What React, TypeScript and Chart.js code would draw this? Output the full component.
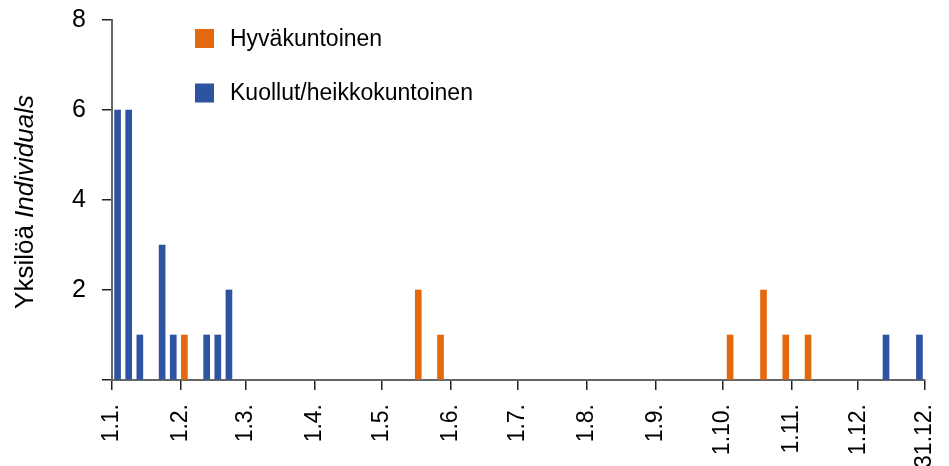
import React, { useEffect, useRef } from "react";
import { Chart, registerables } from "chart.js";

Chart.register(...registerables);

// Day-of-year (0 = 1.1.) bin centres, 5-day bins
const goodDays = [32.5, 137.5, 147.5, 277.5, 292.5, 302.5, 312.5];
const goodCounts = [1, 2, 1, 1, 2, 1, 1];
const poorDays = [2.5, 7.5, 12.5, 22.5, 27.5, 42.5, 47.5, 52.5, 347.5, 362.5];
const poorCounts = [6, 6, 1, 3, 1, 1, 1, 2, 1, 1];

const tickDays = [0, 31, 60, 91, 121, 152, 182, 213, 244, 274, 305, 335, 365];
const tickLabels = ["1.1.", "1.2.", "1.3.", "1.4.", "1.5.", "1.6.", "1.7.", "1.8.", "1.9.", "1.10.", "1.11.", "1.12.", "31.12."];
const yTicks = [0, 2, 4, 6, 8];

const seriesNames = ["Hyväkuntoinen", "Kuollut/heikkokuntoinen"];
const seriesColors = ["#E3690F", "#2E53A0"];

const FONT = "'Liberation Sans', Arial, Helvetica, sans-serif";

const overlayPlugin = {
  id: "overlay",
  afterDraw(chart: any) {
    const ctx = chart.ctx as CanvasRenderingContext2D;
    ctx.save();
    // y-axis title with mixed styles
    const part1 = "Yksilöä ";
    const part2 = "Individuals";
    ctx.font = `26px ${FONT}`;
    const w1 = ctx.measureText(part1).width;
    ctx.font = `italic 26px ${FONT}`;
    const w2 = ctx.measureText(part2).width;
    const total = w1 + w2;
    const cy = 202;
    ctx.translate(33, cy);
    ctx.rotate(-Math.PI / 2);
    ctx.fillStyle = "#000";
    ctx.textBaseline = "alphabetic";
    ctx.textAlign = "left";
    ctx.font = `26px ${FONT}`;
    ctx.fillText(part1, -total / 2, 0);
    ctx.font = `italic 26px ${FONT}`;
    ctx.fillText(part2, -total / 2 + w1, 0);
    ctx.restore();

    // legend
    ctx.save();
    ctx.font = `23px ${FONT}`;
    ctx.textBaseline = "middle";
    ctx.textAlign = "left";
    seriesNames.forEach((name, i) => {
      const cyL = 38.5 + i * 54.5;
      ctx.fillStyle = seriesColors[i];
      ctx.fillRect(195, cyL - 9.5, 19, 19);
      ctx.fillStyle = "#000";
      ctx.fillText(name, 230, cyL + 1);
    });
    ctx.restore();
  },
};

export default function App() {
  const ref = useRef<HTMLCanvasElement | null>(null);

  useEffect(() => {
    document.body.style.margin = "0";
    if (!ref.current) return;
    const chart = new Chart(ref.current, {
      type: "bar",
      data: {
        datasets: [
          {
            label: seriesNames[0],
            data: goodDays.map((d, i) => ({ x: d, y: goodCounts[i] })),
            backgroundColor: seriesColors[0],
            barThickness: 6,
            grouped: false,
          } as any,
          {
            label: seriesNames[1],
            data: poorDays.map((d, i) => ({ x: d, y: poorCounts[i] })),
            backgroundColor: seriesColors[1],
            barThickness: 6,
            grouped: false,
          } as any,
        ],
      },
      options: {
        animation: false,
        responsive: false,
        maintainAspectRatio: false,
        layout: { padding: { top: 20, right: 24, left: 0, bottom: 0 } },
        plugins: { legend: { display: false }, tooltip: { enabled: false } },
        scales: {
          x: {
            type: "linear",
            offset: false,
            min: 0,
            max: 365,
            afterBuildTicks: (scale: any) => {
              scale.ticks = tickDays.map((v) => ({ value: v }));
            },
            afterFit: (scale: any) => {
              scale.height = 86;
              scale.paddingLeft = 0;
              scale.paddingRight = 0;
            },
            ticks: {
              autoSkip: false,
              maxRotation: 90,
              minRotation: 90,
              padding: 14,
              color: "#000",
              font: { family: FONT, size: 23 },
              callback: (_v: any, i: number) => tickLabels[i],
            },
            grid: {
              offset: false,
              drawOnChartArea: false,
              drawTicks: true,
              tickLength: 10,
              color: "#222",
              lineWidth: 1.5,
            },
            border: { display: true, color: "#666", width: 2 },
          },
          y: {
            min: 0,
            max: 8,
            afterBuildTicks: (scale: any) => {
              scale.ticks = yTicks.map((v) => ({ value: v }));
            },
            afterFit: (scale: any) => {
              scale.width = 112;
              scale.paddingTop = 0;
              scale.paddingBottom = 0;
            },
            ticks: {
              padding: 16,
              color: "#000",
              font: { family: FONT, size: 25 },
              callback: (v: any) => (v === 0 ? "" : String(v)),
            },
            grid: {
              drawOnChartArea: false,
              drawTicks: true,
              tickLength: 10,
              color: "#222",
              lineWidth: 1.5,
            },
            border: { display: true, color: "#666", width: 2 },
          },
        },
      },
      plugins: [overlayPlugin],
    });
    return () => chart.destroy();
  }, []);

  return (
    <div style={{ width: 949, height: 466, background: "#fff" }}>
      <canvas ref={ref} width={949} height={466} style={{ display: "block" }} />
    </div>
  );
}
